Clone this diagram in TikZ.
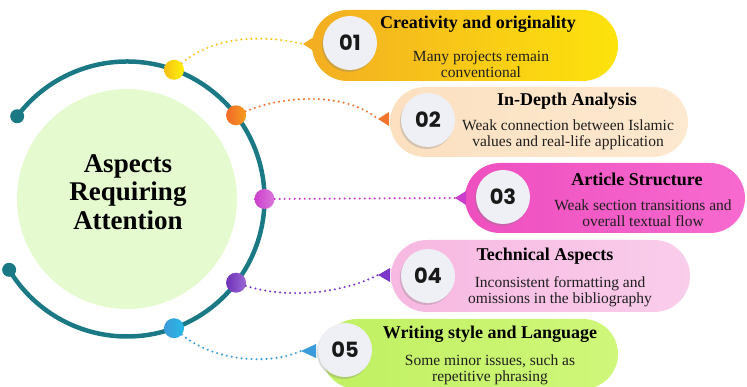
\documentclass[tikz,border=0pt]{standalone}
\usepackage{fontspec}
\setmainfont{Liberation Serif}
\newfontfamily\numfont{Poppins}
\usetikzlibrary{shapes.misc,shadows}

\definecolor{ringteal}{HTML}{1B7986}
\definecolor{corefill}{HTML}{E6FAD0}
\definecolor{discgray}{HTML}{EEF0F5}
\definecolor{ylA}{HTML}{F3AE22}\definecolor{ylB}{HTML}{FDE30C}
\definecolor{pcA}{HTML}{FCE0C0}\definecolor{pcB}{HTML}{FDE9D0}
\definecolor{mgA}{HTML}{EE4FBF}\definecolor{mgB}{HTML}{F76ACF}
\definecolor{pkA}{HTML}{F7B8E1}\definecolor{pkB}{HTML}{FACDEB}
\definecolor{lmA}{HTML}{C0F061}\definecolor{lmB}{HTML}{CFF77A}
\definecolor{dotY}{HTML}{F7C318}
\definecolor{dotO}{HTML}{F0742C}
\definecolor{dotM}{HTML}{CB3ECB}
\definecolor{dotP}{HTML}{7A36CA}
\definecolor{dotB}{HTML}{3A9BDA}

\begin{document}
\begin{tikzpicture}[x=1pt,y=-1pt,
  pill/.style={rounded rectangle, inner sep=0pt},
  numdisc/.style={circle, minimum size=54pt, inner sep=0pt, fill=discgray,
    drop shadow={shadow xshift=-1.2pt, shadow yshift=-2pt, opacity=0.3},
    font=\numfont\bfseries\fontsize{21}{21}\selectfont, text=black!90},
  ttl/.style={font=\bfseries\fontsize{18}{20}\selectfont, text=black},
  sub/.style={font=\fontsize{15.5}{16}\selectfont, align=center, text=black!88},
  link/.style={line width=2.3pt, line cap=round, dash pattern=on 0pt off 5pt},
  dotm/.style={circle, minimum size=20pt, inner sep=0pt},
]
\useasboundingbox (0,0) rectangle (747,387);

% central disc and title
\coordinate (c) at (127,199);
\node[circle, fill=corefill, minimum size=220pt, inner sep=0pt] (core) at (c) {};
\node[font=\bfseries\fontsize{27}{28.5}\selectfont, align=center] (heading) at (128,192)
  {Aspects\\Requiring\\Attention};

% open ring with round end caps
\coordinate (e1) at ([shift={(-143:137.5)}]c);
\coordinate (e2) at ([shift={(149:137.5)}]c);
\draw[ringteal, line width=4.5pt] (e1) arc[start angle=143, end angle=-149, radius=137.5pt];
\fill[ringteal] (e1) circle[radius=7pt];
\fill[ringteal] (e2) circle[radius=7pt];

% pointer tips of the five cards
\coordinate (t1) at (303,44);
\coordinate (t2) at (378,119);
\coordinate (t3) at (455,198);
\coordinate (t4) at (378,275);
\coordinate (t5) at (301,351);

% dots on the ring
\node[dotm, left color=dotY!95!orange, right color=yellow!80!dotY] (d1) at ([shift={(-70:137.5)}]c) {};
\node[dotm, left color=dotO!90!red, right color=dotO!70!yellow] (d2) at ([shift={(-37.5:137.5)}]c) {};
\node[dotm, left color=dotM, right color=dotM!70!white] (d3) at ([shift={(0:137.5)}]c) {};
\node[dotm, left color=dotP!90!black, right color=dotP!75!white] (d4) at ([shift={(37.5:137.5)}]c) {};
\node[dotm, left color=dotB, right color=dotB!70!cyan] (d5) at ([shift={(70:137.5)}]c) {};

% dotted connectors
\draw[link, dotY] (d1) .. controls (215,35) and (265,35) .. (t1);
\draw[link, dotO] (d2) .. controls (285,95) and (345,92) .. (t2);
\draw[link, dotM] (d3) -- (t3);
\draw[link, dotP] (d4) .. controls (290,300) and (345,292) .. (t4);
\draw[link, dotB] (d5) .. controls (215,362) and (270,365) .. (t5);

% cards
\fill[ylA] (t1) -- ++(17,-11) -- ++(0,22) -- cycle;
\node[pill, minimum width=306pt, minimum height=71pt, left color=ylA, right color=ylB] (b1) at (465,45.5) {};
\node[pill, minimum width=298pt, minimum height=70pt, left color=pcA, right color=pcB] (b2) at (539,122) {};
\node[pill, minimum width=280pt, minimum height=70pt, left color=mgA, right color=mgB] (b3) at (605,198) {};
\node[pill, minimum width=299pt, minimum height=72pt, left color=pkA, right color=pkB] (b4) at (540.5,276) {};
\node[pill, minimum width=296pt, minimum height=70pt, left color=lmA, right color=lmB] (b5) at (470,354) {};

\fill[dotO] (t2) -- ++(11,-7) -- ++(0,14) -- cycle;
\fill[dotM] (t3) -- ++(11,-7) -- ++(0,14) -- cycle;
\fill[dotP] (t4) -- ++(12,-7) -- ++(0,14) -- cycle;
\fill[dotB] (t5) -- ++(15,-7) -- ++(0,14) -- cycle;

% number discs
\node[numdisc] (n1) at (350,43) {01};
\node[numdisc] (n2) at (428,120) {02};
\node[numdisc] (n3) at (503,197) {03};
\node[numdisc] (n4) at (428,276) {04};
\node[numdisc] (n5) at (345,350) {05};

% card texts
\node[ttl] (h1) at (478,24) {Creativity and originality};
\node[sub] (s1) at (481,64) {Many projects remain\\conventional};
\node[ttl] (h2) at (567,101) {In-Depth Analysis};
\node[sub] (s2) at (568,135) {Weak connection between Islamic\\values and real-life application};
\node[ttl] (h3) at (637,179) {Article Structure};
\node[sub] (s3) at (643,213.5) {Weak section transitions and\\overall textual flow};
\node[ttl] (h4) at (545,256) {Technical Aspects};
\node[sub] (s4) at (560,292) {Inconsistent formatting and\\omissions in the bibliography};
\node[ttl] (h5) at (490,334) {Writing style and Language};
\node[sub] (s5) at (490,369.5) {Some minor issues, such as\\repetitive phrasing};
\end{tikzpicture}
\end{document}
